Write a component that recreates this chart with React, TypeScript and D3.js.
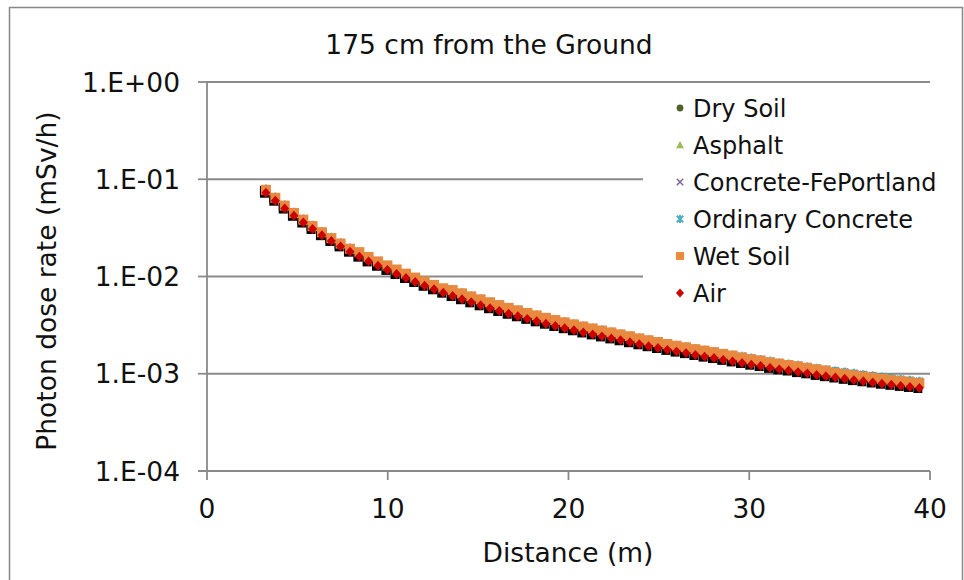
import React from "react";
import * as d3 from "d3";

const distances = [3.26, 3.78, 4.30, 4.81, 5.33, 5.84, 6.36, 6.88, 7.39, 7.91, 8.43, 8.94, 9.46, 9.98, 10.49, 11.01, 11.52, 12.04, 12.56, 13.07, 13.59, 14.11, 14.62, 15.14, 15.66, 16.17, 16.69, 17.20, 17.72, 18.24, 18.75, 19.27, 19.79, 20.30, 20.82, 21.34, 21.85, 22.37, 22.88, 23.40, 23.92, 24.43, 24.95, 25.47, 25.98, 26.50, 27.02, 27.53, 28.05, 28.56, 29.08, 29.60, 30.11, 30.63, 31.15, 31.66, 32.18, 32.70, 33.21, 33.73, 34.24, 34.76, 35.28, 35.79, 36.31, 36.83, 37.34, 37.86, 38.38, 38.89, 39.41];

const drySoil = [0.0785, 0.0650, 0.0540, 0.0455, 0.0388, 0.0333, 0.0287, 0.0251, 0.0220, 0.0194, 0.0173, 0.0154, 0.0139, 0.0126, 0.0114, 0.0104, 0.00948, 0.00867, 0.00798, 0.00737, 0.00725, 0.00672, 0.00624, 0.00582, 0.00543, 0.00508, 0.00476, 0.00449, 0.00422, 0.00398, 0.00376, 0.00357, 0.00338, 0.00322, 0.00306, 0.00292, 0.00278, 0.00266, 0.00254, 0.00243, 0.00231, 0.00223, 0.00213, 0.00204, 0.00196, 0.00189, 0.00181, 0.00174, 0.00168, 0.00161, 0.00155, 0.00150, 0.00144, 0.00139, 0.00133, 0.00129, 0.00126, 0.00122, 0.00118, 0.00114, 0.00110, 0.00107, 0.00104, 0.00101, 0.000979, 0.000951, 0.000924, 0.000901, 0.000878, 0.000855, 0.000835];

const asphalt = [0.0792, 0.0656, 0.0545, 0.0459, 0.0391, 0.0336, 0.0290, 0.0253, 0.0222, 0.0196, 0.0174, 0.0156, 0.0141, 0.0128, 0.0116, 0.0105, 0.00957, 0.00875, 0.00806, 0.00743, 0.00737, 0.00683, 0.00635, 0.00592, 0.00552, 0.00517, 0.00484, 0.00456, 0.00429, 0.00405, 0.00383, 0.00363, 0.00344, 0.00328, 0.00311, 0.00297, 0.00283, 0.00270, 0.00259, 0.00247, 0.00235, 0.00225, 0.00215, 0.00206, 0.00198, 0.00191, 0.00183, 0.00176, 0.00170, 0.00163, 0.00157, 0.00148, 0.00143, 0.00138, 0.00132, 0.00128, 0.00124, 0.00120, 0.00116, 0.00112, 0.00109, 0.00105, 0.00102, 0.000989, 0.000963, 0.000935, 0.000909, 0.000886, 0.000863, 0.000841, 0.000821];

const concreteFePortland = [0.0785, 0.0650, 0.0540, 0.0455, 0.0388, 0.0333, 0.0287, 0.0251, 0.0220, 0.0194, 0.0173, 0.0154, 0.0139, 0.0126, 0.0114, 0.0104, 0.00948, 0.00867, 0.00798, 0.00737, 0.00725, 0.00672, 0.00624, 0.00582, 0.00543, 0.00508, 0.00476, 0.00449, 0.00422, 0.00398, 0.00376, 0.00357, 0.00338, 0.00322, 0.00306, 0.00292, 0.00278, 0.00266, 0.00254, 0.00243, 0.00231, 0.00221, 0.00212, 0.00202, 0.00194, 0.00187, 0.00179, 0.00173, 0.00167, 0.00160, 0.00154, 0.00150, 0.00144, 0.00139, 0.00133, 0.00129, 0.00125, 0.00121, 0.00117, 0.00113, 0.00110, 0.00106, 0.00103, 0.000998, 0.000971, 0.000943, 0.000916, 0.000893, 0.000870, 0.000848, 0.000828];

const ordinaryConcrete = [0.0792, 0.0656, 0.0545, 0.0459, 0.0391, 0.0336, 0.0290, 0.0253, 0.0222, 0.0196, 0.0174, 0.0156, 0.0141, 0.0128, 0.0116, 0.0105, 0.00957, 0.00875, 0.00806, 0.00743, 0.00731, 0.00677, 0.00630, 0.00587, 0.00548, 0.00513, 0.00480, 0.00452, 0.00426, 0.00401, 0.00379, 0.00360, 0.00341, 0.00325, 0.00309, 0.00295, 0.00281, 0.00268, 0.00256, 0.00245, 0.00233, 0.00223, 0.00213, 0.00204, 0.00196, 0.00189, 0.00181, 0.00174, 0.00168, 0.00161, 0.00155, 0.00151, 0.00145, 0.00140, 0.00135, 0.00130, 0.00126, 0.00122, 0.00118, 0.00114, 0.00110, 0.00107, 0.00104, 0.00101, 0.000979, 0.000951, 0.000924, 0.000901, 0.000878, 0.000855, 0.000835];

const wetSoil = [0.0778, 0.0644, 0.0535, 0.0450, 0.0384, 0.0330, 0.0285, 0.0248, 0.0218, 0.0193, 0.0178, 0.0159, 0.0143, 0.0130, 0.0118, 0.0107, 0.00975, 0.00891, 0.00820, 0.00757, 0.00725, 0.00672, 0.00624, 0.00582, 0.00543, 0.00508, 0.00476, 0.00449, 0.00422, 0.00398, 0.00376, 0.00357, 0.00338, 0.00322, 0.00306, 0.00292, 0.00278, 0.00266, 0.00254, 0.00243, 0.00231, 0.00221, 0.00212, 0.00202, 0.00194, 0.00187, 0.00179, 0.00173, 0.00167, 0.00160, 0.00154, 0.00147, 0.00141, 0.00137, 0.00131, 0.00127, 0.00123, 0.00119, 0.00115, 0.00111, 0.00108, 0.00102, 0.000993, 0.000963, 0.000937, 0.000911, 0.000885, 0.000862, 0.000840, 0.000819, 0.000800];

const air = [0.0727, 0.0602, 0.0500, 0.0421, 0.0359, 0.0308, 0.0266, 0.0232, 0.0204, 0.0180, 0.0160, 0.0143, 0.0129, 0.0117, 0.0106, 0.00965, 0.00878, 0.00803, 0.00739, 0.00682, 0.00630, 0.00584, 0.00543, 0.00506, 0.00472, 0.00442, 0.00414, 0.00390, 0.00367, 0.00346, 0.00327, 0.00310, 0.00294, 0.00280, 0.00266, 0.00254, 0.00242, 0.00231, 0.00221, 0.00211, 0.00201, 0.00192, 0.00184, 0.00176, 0.00169, 0.00163, 0.00156, 0.00150, 0.00145, 0.00139, 0.00134, 0.00129, 0.00124, 0.00120, 0.00115, 0.00111, 0.00108, 0.00104, 0.00101, 0.000973, 0.000944, 0.000915, 0.000887, 0.000860, 0.000837, 0.000813, 0.000790, 0.000770, 0.000750, 0.000731, 0.000714];

const seriesNames = ["Dry Soil", "Asphalt", "Concrete-FePortland", "Ordinary Concrete", "Wet Soil", "Air"];
const seriesColors = ["#4F6228", "#9BBB59", "#8064A2", "#4BACC6", "#E8893F", "#CC0000"];
const seriesShapes = ["circle", "triangle", "x", "star", "square", "diamond"];
const seriesValues = [drySoil, asphalt, concreteFePortland, ordinaryConcrete, wetSoil, air];

const xTicks = [0, 10, 20, 30, 40];
const yTicks = [1, 0.1, 0.01, 0.001, 0.0001];
const yTickLabels = ["1.E+00", "1.E-01", "1.E-02", "1.E-03", "1.E-04"];

const FONT = "'DejaVu Sans', Verdana, sans-serif";

function Marker({ shape, color, x, y, s }: { shape: string; color: string; x: number; y: number; s: number }) {
  const h = s / 2;
  switch (shape) {
    case "circle":
      return <circle cx={x} cy={y} r={h * 0.85} fill={color} />;
    case "triangle":
      return <path d={`M${x},${y - h}L${x + h},${y + h * 0.8}L${x - h},${y + h * 0.8}Z`} fill={color} />;
    case "x":
      return <path d={`M${x - h * 0.8},${y - h * 0.8}L${x + h * 0.8},${y + h * 0.8}M${x + h * 0.8},${y - h * 0.8}L${x - h * 0.8},${y + h * 0.8}`} stroke={color} strokeWidth={1.5} fill="none" />;
    case "star":
      return <path d={`M${x - h * 0.8},${y - h * 0.8}L${x + h * 0.8},${y + h * 0.8}M${x + h * 0.8},${y - h * 0.8}L${x - h * 0.8},${y + h * 0.8}M${x},${y - h}L${x},${y + h}`} stroke={color} strokeWidth={2} fill="none" />;
    case "square":
      return <rect x={x - h} y={y - h} width={s} height={s} fill={color} />;
    default:
      return <path d={`M${x},${y - h * 1.1}L${x + h},${y}L${x},${y + h * 1.1}L${x - h},${y}Z`} fill={color} />;
  }
}

export default function App() {
  const W = 964, H = 580;
  const x = d3.scaleLinear().domain([0, 40]).range([207, 930]);
  const y = d3.scaleLog().domain([1, 0.0001]).range([82, 471]);
  const grid = "#8a8a8a";

  const legendX = 680;
  const legendY0 = 108;
  const legendDy = 37;

  return (
    <svg width={W} height={H} style={{ position: "absolute", left: 0, top: 0, background: "#fff" }} fontFamily={FONT}>
      <rect x={0} y={0} width={W} height={H} fill="#fff" />
      <rect x={9.5} y={7.5} width={953} height={600} fill="none" stroke="#888" strokeWidth={1.5} />
      <text x={489} y={54} textAnchor="middle" fontSize={26.5} fill="#111">175 cm from the Ground</text>

      {/* gridlines */}
      {yTicks.slice(0, 4).map((t, i) => (
        <line key={"g" + i} x1={207} x2={930} y1={y(t)} y2={y(t)} stroke={grid} strokeWidth={1.8} />
      ))}
      {/* y axis */}
      <line x1={207} x2={207} y1={82} y2={471} stroke={grid} strokeWidth={1.8} />
      {yTicks.map((t, i) => (
        <g key={"yt" + i}>
          <line x1={198} x2={207} y1={y(t)} y2={y(t)} stroke={grid} strokeWidth={1.8} />
          <text x={180} y={y(t) + 9.5} textAnchor="end" fontSize={26.5} fill="#111">{yTickLabels[i]}</text>
        </g>
      ))}
      {/* x axis */}
      <line x1={198} x2={930} y1={471} y2={471} stroke={grid} strokeWidth={1.8} />
      {xTicks.map((t, i) => (
        <g key={"xt" + i}>
          <line x1={x(t)} x2={x(t)} y1={471} y2={480} stroke={grid} strokeWidth={1.8} />
          <text x={x(t)} y={518} textAnchor="middle" fontSize={26.5} fill="#111">{t}</text>
        </g>
      ))}
      <text x={568} y={562} textAnchor="middle" fontSize={26.5} fill="#111">Distance (m)</text>
      <text transform={`translate(56,281) rotate(-90)`} textAnchor="middle" fontSize={26.5} fill="#111">Photon dose rate (mSv/h)</text>

      {/* legend background */}
      <rect x={643} y={90} width={300} height={222} fill="#fff" />

      {/* shadows */}
      {[wetSoil, air].map((vals, si) => (
        <g key={"sh" + si}>
          {vals.map((v, i) => (
            <rect key={i} x={x(distances[i]) - 6} y={y(v) - 4} width={9} height={9} fill="#000" />
          ))}
        </g>
      ))}

      {/* series */}
      {seriesValues.map((vals, si) => (
        <g key={"s" + si}>
          {vals.map((v, i) => (
            <Marker key={i} shape={seriesShapes[si]} color={seriesColors[si]} x={x(distances[i])} y={y(v)} s={si === 4 ? 10 : 9} />
          ))}
        </g>
      ))}

      {/* legend */}
      {seriesNames.map((n, i) => (
        <g key={"l" + i}>
          <Marker shape={seriesShapes[i]} color={seriesColors[i]} x={legendX} y={legendY0 + i * legendDy} s={8} />
          <text x={693} y={legendY0 + i * legendDy + 8.5} fontSize={24} fill="#111">{n}</text>
        </g>
      ))}
    </svg>
  );
}
